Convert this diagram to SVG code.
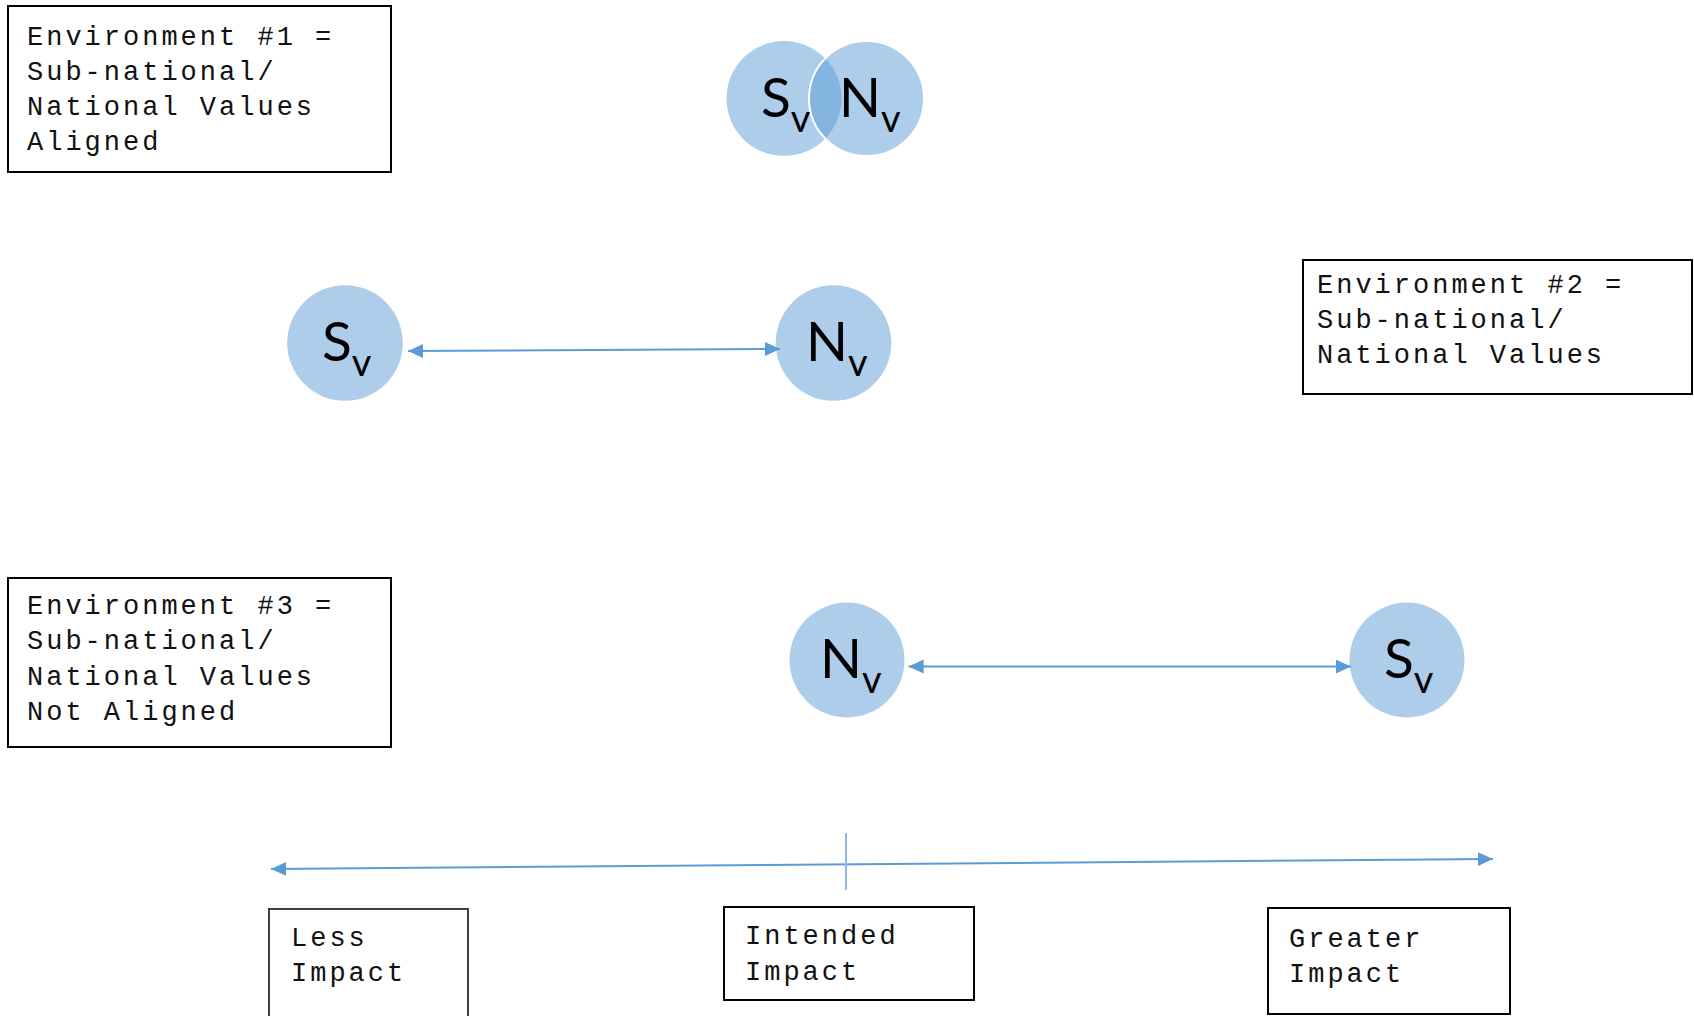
<svg xmlns="http://www.w3.org/2000/svg" width="1694" height="1016" viewBox="0 0 1694 1016">
<style>
.box{fill:#fff;stroke:#000;stroke-width:2}
.grey{stroke:#404040}
.lbl{font-family:"Liberation Mono","Courier New",monospace;font-size:27px;letter-spacing:3px;fill:#111}
.c{fill:#5B9BD5;fill-opacity:0.5}
.ct{font-family:Lato,"Open Sans",sans-serif;font-size:55px;fill:#000}
.sub{font-size:38px}
.conn{stroke:#5B9BD5;stroke-width:2;fill:none}
</style>
<defs>
<marker id="ah" markerUnits="userSpaceOnUse" markerWidth="16" markerHeight="15" refX="15" refY="7" orient="auto-start-reverse">
<path d="M0 0 L15 7 L0 14 z" fill="#5B9BD5"/>
</marker>
</defs>
<g id="env1">
<rect class="box" x="8" y="6" width="383" height="166"/>
<text class="lbl"><tspan x="27" y="45">Environment #1 =</tspan><tspan x="27" y="80">Sub-national/</tspan><tspan x="27" y="115">National Values</tspan><tspan x="27" y="150">Aligned</tspan></text>
</g>
<g id="env2">
<rect class="box" x="1303" y="260" width="389" height="134"/>
<text class="lbl"><tspan x="1317" y="293">Environment #2 =</tspan><tspan x="1317" y="328">Sub-national/</tspan><tspan x="1317" y="363">National Values</tspan></text>
</g>
<g id="env3">
<rect class="box" x="8" y="578" width="383" height="169"/>
<text class="lbl"><tspan x="27" y="614">Environment #3 =</tspan><tspan x="27" y="649">Sub-national/</tspan><tspan x="27" y="685">National Values</tspan><tspan x="27" y="720">Not Aligned</tspan></text>
</g>
<g id="venn">
<circle class="c" cx="784" cy="98.5" r="57.5"/>
<circle class="c" cx="866.5" cy="98.5" r="57.5" stroke="#fff" stroke-width="2"/>
<text class="ct" x="761" y="117">S<tspan class="sub" dy="15">v</tspan></text>
<text class="ct" x="839" y="117">N<tspan class="sub" dy="15">v</tspan></text>
</g>
<g id="sv2">
<circle class="c" cx="345" cy="343" r="57.8"/>
<text class="ct" x="322" y="361">S<tspan class="sub" dy="15">v</tspan></text>
</g>
<g id="nv2">
<circle class="c" cx="833.5" cy="343" r="57.8"/>
<text class="ct" x="806" y="361">N<tspan class="sub" dy="15">v</tspan></text>
</g>
<g id="nv3">
<circle class="c" cx="847" cy="660" r="57.5"/>
<text class="ct" x="820" y="678">N<tspan class="sub" dy="15">v</tspan></text>
</g>
<g id="sv3">
<circle class="c" cx="1407" cy="660" r="57.5"/>
<text class="ct" x="1384" y="678">S<tspan class="sub" dy="15">v</tspan></text>
</g>
<g id="less">
<rect class="box grey" x="269" y="909" width="199" height="120"/>
<text class="lbl"><tspan x="291" y="946">Less</tspan><tspan x="291" y="981">Impact</tspan></text>
</g>
<g id="intended">
<rect class="box" x="724" y="907" width="250" height="93" stroke-width="2.5"/>
<text class="lbl"><tspan x="745" y="944">Intended</tspan><tspan x="745" y="980">Impact</tspan></text>
</g>
<g id="greater">
<rect class="box" x="1268" y="908" width="242" height="106" stroke-width="2.5"/>
<text class="lbl"><tspan x="1289" y="947">Greater</tspan><tspan x="1289" y="982">Impact</tspan></text>
</g>
<g id="connectors">
<path class="conn" d="M408 351 L780 349" marker-start="url(#ah)" marker-end="url(#ah)"/>
<path class="conn" d="M908.6 666.6 L1351 666.6" marker-start="url(#ah)" marker-end="url(#ah)"/>
<path class="conn" d="M271 869 L1493 859" marker-start="url(#ah)" marker-end="url(#ah)"/>
<path d="M846 833 L846 890" stroke="#8FB9E6" stroke-width="2" fill="none"/>
</g>
</svg>
